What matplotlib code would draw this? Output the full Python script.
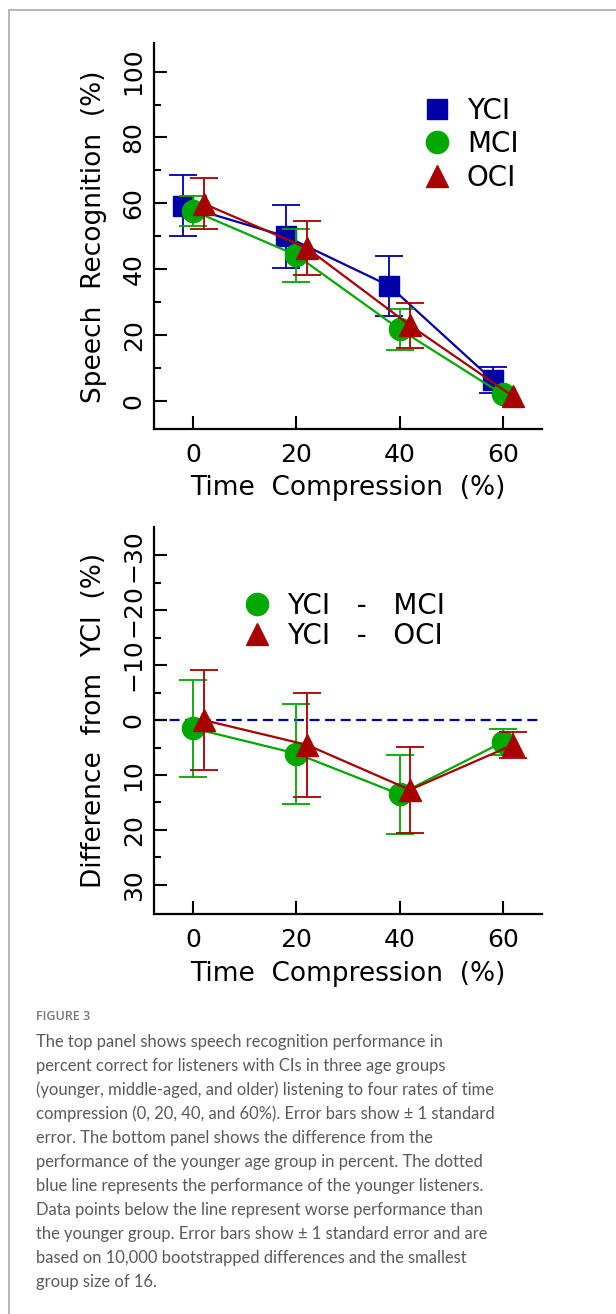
import matplotlib
matplotlib.use('Agg')
import matplotlib.pyplot as plt
import numpy as np
from matplotlib.lines import Line2D
from matplotlib.ticker import FixedLocator

# time compression rates (%)
compression = [0, 20, 40, 60]

# top panel: speech recognition (%) and standard errors
yci_mean = [59.3, 49.9, 34.9, 6.3]
yci_se = [9.3, 9.7, 9.2, 4.0]
mci_mean = [57.7, 44.2, 21.7, 1.9]
mci_se = [4.6, 8.0, 6.2, 0.0]
oci_mean = [59.9, 46.4, 22.9, 1.3]
oci_se = [7.7, 8.2, 6.8, 0.0]

# bottom panel: difference from YCI (%)
diff_mci = [1.5, 6.1, 13.5, 4.0]
diff_mci_se = [8.8, 9.1, 7.2, 2.4]
diff_oci = [0.0, 4.5, 12.7, 4.5]
diff_oci_se = [9.1, 9.5, 7.8, 2.4]

top_yticks = [0, 20, 40, 60, 80, 100]
top_minor = [10, 30, 50, 70, 90]
bot_yticks = [30, 20, 10, 0, -10, -20, -30]
bot_ylabels = ['30', '20', '10', '0', '\u221210', '\u221220', '\u221230']
bot_minor = [25, 15, 5, -5, -15, -25]

caption = [
    "The top panel shows speech recognition performance in",
    "percent correct for listeners with CIs in three age groups",
    "(younger, middle-aged, and older) listening to four rates of time",
    "compression (0, 20, 40, and 60%). Error bars show \u00b1 1 standard",
    "error. The bottom panel shows the difference from the",
    "performance of the younger age group in percent. The dotted",
    "blue line represents the performance of the younger listeners.",
    "Data points below the line represent worse performance than",
    "the younger group. Error bars show \u00b1 1 standard error and are",
    "based on 10,000 bootstrapped differences and the smallest",
    "group size of 16.",
]

BLUE = '#0000a8'
GREEN = '#00a800'
RED = '#a80000'
FS = 18      # tick labels
LFS = 19     # axis labels
GFS = 20     # legend

plt.rcParams['font.family'] = 'DejaVu Sans'


def draw_series(ax, offset, y, err, color, marker, ms, z):
    x = np.array(compression) + offset
    y = np.array(y)
    err = np.array(err)
    ax.plot(x, y, linestyle='none', marker=marker, ms=ms, color=color,
            mec=color, zorder=z)
    # zero-length bars are not drawn (as in the original)
    keep = err > 0
    ax.errorbar(x[keep], y[keep], yerr=err[keep], fmt='none', ecolor=color,
                elinewidth=1.3, capsize=10, capthick=1.3, zorder=z + 1)
    ax.plot(x, y, '-', color=color, lw=1.6, zorder=z + 1)


def style_axes(ax):
    for s in ['top', 'right']:
        ax.spines[s].set_visible(False)
    for s in ['left', 'bottom']:
        ax.spines[s].set_linewidth(1.6)
    ax.set_xlim(-7.6, 67.6)
    ax.set_xticks(compression)
    ax.tick_params(axis='both', which='major', direction='in', length=9.5,
                   width=1.5, labelsize=FS)
    ax.tick_params(axis='both', which='minor', direction='in', length=5,
                   width=1.5)
    ax.tick_params(axis='x', pad=10)
    ax.tick_params(axis='y', pad=6)
    ax.set_xlabel('Time  Compression  (%)', fontsize=LFS)
    ax.xaxis.set_label_coords(0.5, -0.12)


fig = plt.figure(figsize=(6.16, 13.14), dpi=100)

# ---- top panel ----
ax1 = fig.add_axes([0.25, 0.6735, 0.63, 0.2938])
draw_series(ax1, -2, yci_mean, yci_se, BLUE, 's', 14.5, 2)
draw_series(ax1, 0, mci_mean, mci_se, GREEN, 'o', 16, 5)
draw_series(ax1, 2, oci_mean, oci_se, RED, '^', 16, 8)
style_axes(ax1)
ax1.set_ylim(-8.6, 108.7)
ax1.set_yticks(top_yticks)
ax1.set_yticklabels([str(t) for t in top_yticks], rotation=90, va='center')
ax1.yaxis.set_minor_locator(FixedLocator(top_minor))
ax1.set_ylabel('Speech  Recognition  (%)', fontsize=LFS)
ax1.yaxis.set_label_coords(-0.122, 0.498)

h1 = [Line2D([], [], ls='none', marker='s', ms=15, color=BLUE),
      Line2D([], [], ls='none', marker='o', ms=16, color=GREEN),
      Line2D([], [], ls='none', marker='^', ms=16, color=RED)]
ax1.legend(h1, ['YCI', 'MCI', 'OCI'], loc='upper left',
           bbox_to_anchor=(0.693, 0.861), frameon=False, fontsize=GFS,
           handlelength=1.0, handletextpad=0.58, labelspacing=0.2,
           borderpad=0, borderaxespad=0)

# ---- bottom panel ----
ax2 = fig.add_axes([0.25, 0.3044, 0.63, 0.2948])
ax2.axhline(0, xmax=0.99, color=BLUE, lw=1.6, ls=(0, (4.5, 2.5)), zorder=1)
draw_series(ax2, 0, diff_mci, diff_mci_se, GREEN, 'o', 16, 5)
draw_series(ax2, 2, diff_oci, diff_oci_se, RED, '^', 16, 8)
style_axes(ax2)
ax2.set_ylim(35.3, -35.2)
ax2.set_yticks(bot_yticks)
ax2.set_yticklabels(bot_ylabels, rotation=90, va='center')
ax2.yaxis.set_minor_locator(FixedLocator(bot_minor))
ax2.set_ylabel('Difference  from  YCI  (%)', fontsize=LFS)
ax2.yaxis.set_label_coords(-0.122, 0.501)

h2 = [Line2D([], [], ls='none', marker='o', ms=16, color=GREEN),
      Line2D([], [], ls='none', marker='^', ms=16, color=RED)]
ax2.legend(h2, ['YCI   -   MCI', 'YCI   -   OCI'], loc='upper left',
           bbox_to_anchor=(0.229, 0.832), frameon=False, fontsize=GFS,
           handlelength=1.0, handletextpad=0.58, labelspacing=0.07,
           borderpad=0, borderaxespad=0)

# ---- caption ----
fig.text(36 / 616, 1 - 1017 / 1314, 'FIGURE 3', fontsize=9, color='#777777',
         family='Open Sans', weight='semibold', va='center')
for i, line in enumerate(caption):
    fig.text(36 / 616, 1 - (1041.7 + 24 * i) / 1314, line, fontsize=11.9,
             color='#5a5a5a', family='Lato', va='center')

# border
fig.add_artist(Line2D([9 / 616, 9 / 616], [0, 1 - 10 / 1314],
                      color='#aaaaaa', lw=1.2))
fig.add_artist(Line2D([9 / 616, 1], [1 - 10 / 1314, 1 - 10 / 1314],
                      color='#aaaaaa', lw=1.2))

fig.savefig('out.png', dpi=100)
